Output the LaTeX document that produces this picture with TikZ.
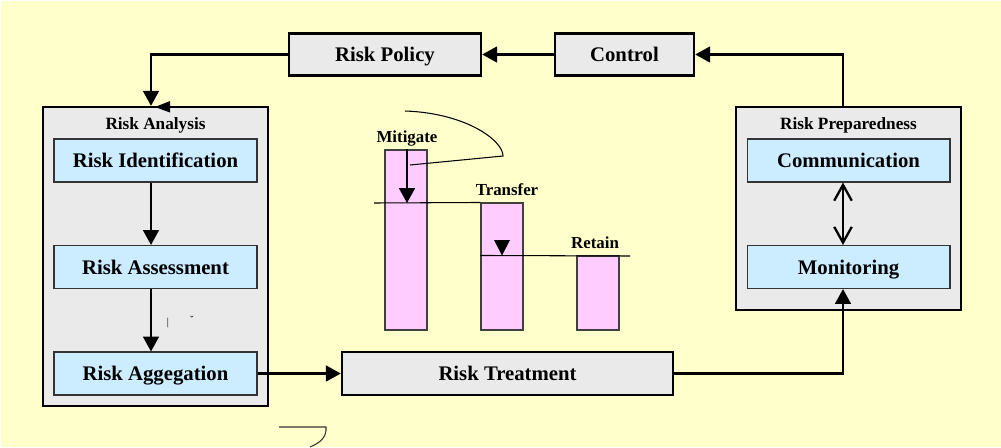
\documentclass[tikz,border=0pt]{standalone}
\usepackage{fontspec}
\setmainfont{Liberation Serif}
\usetikzlibrary{arrows.meta}
\definecolor{canvas}{HTML}{FFFFCC}
\definecolor{boxgray}{HTML}{EAEAEA}
\definecolor{stageblue}{HTML}{CCECFF}
\definecolor{barpink}{HTML}{FFCCFF}
\tikzset{frame/.style={draw,line width=1.4pt,fill=boxgray,inner sep=0pt},
 flow/.style={frame,minimum height=.84cm,font=\fontsize{11.8}{13}\selectfont\bfseries,text height=.8em,text depth=0pt},
 stage/.style={draw=black!80,line width=.6pt,fill=stageblue,inner sep=0pt,minimum width=4.06cm,minimum height=.86cm,
  font=\fontsize{11.8}{13}\selectfont\bfseries,text height=.8em,text depth=0pt},
 heading/.style={anchor=base,inner sep=0pt,font=\fontsize{9.8}{11}\selectfont\bfseries},
 bar/.style={draw=black!75,line width=.6pt,fill=barpink,inner sep=0pt,minimum width=.84cm},
 conn/.style={-{Triangle[length=8.5pt,width=9pt]},line width=1.3pt},
 twoway/.style={{Straight Barb[length=9pt,width=10pt]}-{Straight Barb[length=9pt,width=10pt]},line width=1.3pt},
 level/.style={line width=.6pt}}

\begin{document}
\begin{tikzpicture}[x=0.02cm,y=-0.02cm]
\fill[white] (0,0) rectangle (1001,447);
\fill[canvas] (1,1) rectangle (1001,447);
\useasboundingbox (0,0) rectangle (1001,447);
% top row
\node[flow,minimum width=3.84cm] (policy) at (385,54.5) {Risk Policy};
\node[flow,minimum width=2.78cm] (control) at (624.5,54.5) {Control};
\node[flow,minimum width=6.62cm,minimum height=.86cm] (treat) at (507.5,373.5) {Risk Treatment};
% left group
\node[frame,minimum width=4.5cm,minimum height=5.98cm] (analysis) at (155.5,256.5) {};
\node[heading] (anatitle) at (155.5,129.3) {Risk Analysis};
\node[stage] (ident) at (155.5,160.5) {Risk Identification};
\node[stage] (assess) at (155.5,267) {Risk Assessment};
\node[stage] (aggr) at (155.5,373.5) {Risk Aggegation};
% right group
\node[frame,minimum width=4.5cm,minimum height=4.06cm] (prep) at (848.5,208.5) {};
\node[heading] (preptitle) at (848.5,129.3) {Risk Preparedness};
\node[stage] (comm) at (848.5,160.5) {Communication};
\node[stage] (monit) at (848.5,267) {Monitoring};
\coordinate (lax) at (151,0);
\coordinate (rax) at (843,0);
% connectors
\draw[conn] (control.west) -- (policy.east);
\draw[conn] (prep.north-|rax) |- (control.east);
\draw[conn] (policy.west) -| (analysis.north-|lax);
\fill (155,107) -- (170,101) -- (170,112.5) -- cycle;
\draw[conn] (ident.south-|lax) -- (assess.north-|lax);
\draw[conn] (assess.south-|lax) -- (aggr.north-|lax);
\draw[conn] (aggr.east) -- (treat.west);
\draw[conn] (treat.east) -| (monit.south-|rax);
\draw[twoway] (comm.south-|rax) -- (monit.north-|rax);
\node[inner sep=0pt,font=\fontsize{6}{6}\selectfont] (tick) at (168,323) {|};
\node[inner sep=0pt,font=\fontsize{6}{6}\selectfont] (caron) at (192,320) {ˇ};
% treatment options
\foreach \nm/\lbl/\cx/\lx/\top in {mit/Mitigate/406/407/150,tra/Transfer/502/507/203,ret/Retain/598/595/256} {
 \node[bar,minimum height={(330-\top)*0.02cm}] (\nm) at (\cx,{(330+\top)/2}) {};
 \node[heading,font=\fontsize{9.6}{11}\selectfont\bfseries] (\nm lbl) at (\lx,\top-7.6) {\lbl};
}
\draw[level] (374,203) -- (tra.north west);
\draw[level] (tra.west|-ret.north) -- (630,256);
\coordinate (mitdrop) at (407,203);
\draw[conn] (mit.north-|mitdrop) -- (mitdrop);
\fill (494,240) -- (510,240) -- (502,255.5) -- cycle;
\draw[line width=.6pt] (405,111) .. controls (465,113) and (503,140) .. (503,156) -- (410,165);
\draw[line width=.6pt,black!80] (279,427) -- (326,427) .. controls (327,437) and (320,443) .. (310,447);
\end{tikzpicture}
\end{document}
